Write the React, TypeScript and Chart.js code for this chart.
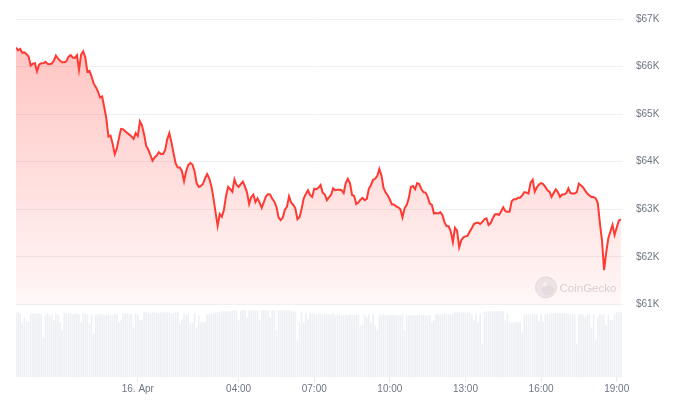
import React, { useEffect, useRef } from "react";
import { Chart, registerables } from "chart.js";

Chart.register(...registerables);

// Time axis: minutes relative to 16 Apr 00:00; first sample 15 Apr 19:10, 5-minute steps
const startMinute = -290;
const stepMinutes = 5;
const endMinute = 1155;

const prices = [
  66400, 66340, 66370, 66290, 66300, 66260, 66210, 66020, 66060, 66070,
  65900, 66040, 66070, 66070, 66100, 66060, 66050, 66060, 66120, 66230,
  66170, 66120, 66090, 66090, 66110, 66210, 66240, 66190, 66180, 66240,
  65930, 66250, 66320, 66190, 65890, 65910, 65790, 65640, 65570, 65480,
  65350, 65370, 65150, 64910, 64530, 64550, 64380, 64160, 64280, 64490,
  64690, 64680, 64640, 64600, 64570, 64530, 64480, 64600, 64540, 64850,
  64760, 64570, 64330, 64250, 64140, 64020, 64090, 64130, 64200, 64160,
  64160, 64240, 64470, 64600, 64410, 64180, 63970, 63880, 63880, 63800,
  63590, 63800, 63930, 63970, 63940, 63800, 63550, 63470, 63490, 63530,
  63650, 63740, 63650, 63490, 63240, 62940, 62650, 62900, 62840, 62990,
  63280, 63470, 63420, 63370, 63630, 63510, 63470, 63530, 63580, 63480,
  63350, 63110, 63260, 63310, 63150, 63230, 63140, 63030, 63150, 63270,
  63320, 63310, 63220, 63160, 63050, 62830, 62770, 62820, 62990, 63050,
  63270, 63140, 63090, 63020, 62790, 62830, 63010, 63230, 63320, 63400,
  63300, 63260, 63430, 63420, 63450, 63510, 63350, 63310, 63190, 63250,
  63300, 63440, 63400, 63410, 63410, 63400, 63340, 63550, 63640, 63550,
  63300, 63280, 63110, 63140, 63200, 63240, 63190, 63220, 63430, 63510,
  63620, 63640, 63700, 63850, 63710, 63450, 63350, 63290, 63200, 63100,
  63100, 63060, 63040, 63000, 62830, 63020, 63090, 63230, 63470, 63490,
  63420, 63550, 63530, 63420, 63360, 63350, 63260, 63120, 63090, 62910,
  62920, 62910, 62940, 62880, 62730, 62640, 62640, 62530, 62310, 62610,
  62550, 62200, 62350, 62410, 62430, 62440, 62530, 62600, 62690, 62710,
  62720, 62690, 62730, 62790, 62810, 62670, 62710, 62810, 62890, 62900,
  62880, 62960, 63040, 62960, 62950, 62950, 63170, 63210, 63210, 63240,
  63240, 63290, 63360, 63350, 63330, 63560, 63620, 63370, 63460, 63520,
  63550, 63530, 63470, 63400, 63370, 63260, 63340, 63420, 63360, 63260,
  63310, 63310, 63340, 63440, 63340, 63330, 63330, 63360, 63540, 63500,
  63460, 63390, 63330, 63290, 63260, 63260, 63230, 63130, 62710, 62340,
  61720, 62090, 62390, 62530, 62670, 62460, 62610, 62760, 62790,
];

// relative trading volume per 5-minute interval
const volumes = [
  65, 65, 64, 54, 60, 56, 56, 64, 64, 63,
  64, 64, 63, 40, 62, 64, 62, 63, 57, 64,
  63, 55, 47, 65, 64, 64, 64, 63, 64, 64,
  63, 55, 64, 64, 63, 54, 63, 44, 63, 63,
  63, 63, 62, 63, 63, 63, 62, 63, 63, 55,
  57, 64, 64, 64, 63, 63, 50, 64, 62, 57,
  57, 65, 65, 65, 64, 65, 65, 65, 64, 65,
  65, 65, 65, 65, 64, 64, 65, 65, 54, 58,
  64, 62, 64, 54, 55, 64, 50, 62, 55, 55,
  55, 63, 63, 64, 64, 65, 65, 65, 66, 66,
  66, 66, 66, 67, 67, 67, 57, 67, 67, 67,
  60, 67, 67, 67, 67, 67, 58, 67, 67, 67,
  67, 60, 67, 67, 47, 67, 67, 67, 67, 67,
  67, 66, 66, 66, 37, 55, 65, 55, 64, 58,
  64, 64, 64, 63, 64, 64, 63, 64, 63, 63,
  63, 64, 62, 63, 63, 62, 63, 63, 62, 63,
  63, 62, 63, 63, 52, 53, 63, 60, 63, 55,
  63, 52, 47, 62, 62, 63, 62, 62, 62, 63,
  62, 62, 62, 62, 63, 47, 62, 62, 62, 63,
  62, 62, 62, 62, 63, 62, 62, 62, 55, 57,
  63, 63, 63, 63, 64, 63, 63, 63, 63, 65,
  65, 65, 65, 65, 65, 65, 65, 63, 57, 63,
  55, 63, 33, 66, 66, 66, 66, 66, 66, 66,
  66, 66, 66, 57, 64, 55, 55, 55, 55, 55,
  55, 45, 63, 63, 63, 63, 63, 63, 63, 56,
  63, 55, 63, 64, 64, 64, 64, 64, 64, 64,
  64, 64, 64, 63, 63, 63, 63, 33, 63, 63,
  63, 60, 63, 63, 50, 63, 38, 60, 63, 62,
  63, 52, 63, 57, 57, 63, 65, 65, 65,
];

const xTickMinutes = [0, 240, 420, 600, 780, 960, 1140];
const xTickLabels = ["16. Apr", "04:00", "07:00", "10:00", "13:00", "16:00", "19:00"];
const priceTicks = [61000, 62000, 63000, 64000, 65000, 66000, 67000];
const priceTickLabels = ["$61K", "$62K", "$63K", "$64K", "$65K", "$66K", "$67K"];

const FONT = '"Liberation Sans", Arial, Helvetica, sans-serif';
const LABEL_COLOR = "#6f7683";

export default function App() {
  const ref = useRef<HTMLCanvasElement | null>(null);

  useEffect(() => {
    document.body.style.margin = "0";
    const canvas = ref.current;
    if (!canvas) return;

    const times = prices.map((_, i) => startMinute + i * stepMinutes);

    const watermark = {
      id: "watermark",
      beforeDatasetsDraw(chart: any) {
        const c = chart.ctx;
        const area = chart.chartArea;
        const base = chart.scales.y.getPixelForValue(priceTicks[0]);
        const cx = area.right - 77;
        const cy = base - 17;
        c.save();
        c.beginPath();
        c.arc(cx, cy, 10.5, 0, Math.PI * 2);
        c.fillStyle = "#eceef0";
        c.fill();
        c.lineWidth = 1;
        c.strokeStyle = "#e0e2e5";
        c.stroke();
        c.beginPath();
        c.ellipse(cx + 2, cy + 3, 6, 5, 0, 0, Math.PI * 2);
        c.fillStyle = "#e2e4e7";
        c.fill();
        c.beginPath();
        c.arc(cx - 1, cy - 3, 2.2, 0, Math.PI * 2);
        c.fillStyle = "#f7f7f8";
        c.fill();
        c.font = "11.5px " + FONT;
        c.fillStyle = "#d6d8dc";
        c.textBaseline = "middle";
        c.textAlign = "left";
        c.fillText("CoinGecko", cx + 13.5, cy + 1);
        c.restore();
      },
    };

    const chart = new Chart(canvas, {
      type: "line",
      data: {
        datasets: [
          {
            type: "line",
            data: times.map((t, i) => ({ x: t, y: prices[i] })),
            yAxisID: "y",
            borderColor: "#ff3a33",
            borderWidth: 2,
            pointRadius: 0,
            tension: 0,
            fill: { value: priceTicks[0] },
            backgroundColor: (ctx: any) => {
              const ch = ctx.chart;
              const area = ch.chartArea;
              if (!area) return "rgba(255,58,51,0.15)";
              const yb = ch.scales.y.getPixelForValue(priceTicks[0]);
              const g = ch.ctx.createLinearGradient(0, area.top, 0, yb);
              g.addColorStop(0, "rgba(255,58,51,0.32)");
              g.addColorStop(1, "rgba(255,58,51,0.04)");
              return g;
            },
            order: 0,
          } as any,
          {
            type: "bar",
            data: times.map((t, i) => ({ x: t, y: volumes[i] })),
            yAxisID: "yv",
            backgroundColor: "#eceff3",
            barPercentage: 0.75,
            categoryPercentage: 1,
            order: 1,
          } as any,
        ],
      },
      options: {
        responsive: false,
        animation: false,
        layout: { padding: { left: 16, top: 17, right: 0, bottom: 0 } },
        plugins: {
          legend: { display: false },
          tooltip: { enabled: false },
        },
        scales: {
          x: {
            type: "linear",
            offset: false,
            min: startMinute,
            max: endMinute,
            grid: {
              drawOnChartArea: false,
              drawTicks: true,
              tickLength: 5,
              tickColor: "#e9ebef",
              color: "#e9ebef",
              offset: false,
            },
            border: { display: false },
            ticks: {
              autoSkip: false,
              maxRotation: 0,
              padding: 1,
              color: LABEL_COLOR,
              font: { family: FONT, size: 10 },
              callback: (v: any) => {
                const i = xTickMinutes.indexOf(Number(v));
                return i >= 0 ? xTickLabels[i] : "";
              },
            },
            afterBuildTicks: (s: any) => {
              s.ticks = xTickMinutes.map((v) => ({ value: v }));
            },
            afterFit: (s: any) => {
              s.height = 30;
            },
          },
          y: {
            position: "right",
            min: 59473,
            max: 67000,
            grid: { color: "#eef0f3", drawTicks: false, lineWidth: 1 },
            border: { display: false },
            ticks: {
              padding: 13,
              color: LABEL_COLOR,
              font: { family: FONT, size: 10 },
              callback: (v: any) => {
                const i = priceTicks.indexOf(Number(v));
                return i >= 0 ? priceTickLabels[i] : "";
              },
            },
            afterBuildTicks: (s: any) => {
              s.ticks = priceTicks.map((v) => ({ value: v }));
            },
            afterFit: (s: any) => {
              s.width = 57;
            },
          },
          yv: {
            type: "linear",
            display: false,
            min: 0,
            max: 360,
          },
        },
      } as any,
      plugins: [watermark],
    });

    return () => chart.destroy();
  }, []);

  return (
    <div style={{ position: "fixed", left: 0, top: 0, width: 680, height: 407, background: "#fff" }}>
      <canvas ref={ref} width={680} height={407} style={{ display: "block" }} />
    </div>
  );
}
